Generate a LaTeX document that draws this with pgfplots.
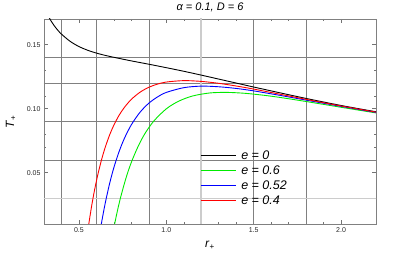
\documentclass[border=0pt]{standalone}
\usepackage{fontspec}
\setmainfont{Liberation Sans}
\usepackage{pgfplots}
\pgfplotsset{compat=1.18}
\definecolor{cgreen}{RGB}{0,235,0}
\definecolor{cred}{RGB}{255,0,0}
\definecolor{cblue}{RGB}{0,0,255}
\begin{document}
\begin{tikzpicture}
\path[use as bounding box] (0,0) rectangle (415pt,260pt);
\begin{axis}[
  at={(44pt,36pt)}, anchor=south west,
  scale only axis, width=332pt, height=205pt,
  xmin=0.3, xmax=2.2, ymin=0.01, ymax=0.17,
  xtick={0.5,1.0,1.5,2.0}, ytick={0.05,0.10,0.15},
  minor x tick num=4, minor y tick num=4,
  xticklabel style={/pgf/number format/fixed, /pgf/number format/precision=1, /pgf/number format/fixed zerofill},
  yticklabel style={/pgf/number format/fixed, /pgf/number format/precision=2, /pgf/number format/fixed zerofill},
  /pgf/number format/assume math mode=true,
  tick label style={font=\fontsize{7}{8}\selectfont, black!85},
  major tick length=4pt, minor tick length=2pt,
  tick style={black!55, line width=0.5pt},
  axis line style={black!50, line width=0.6pt},
  tick align=inside,
  extra x ticks={0.4,0.6,0.9,1.5,1.8}, extra x tick labels={},
  extra x tick style={grid=major, major tick length=0pt},
  extra y ticks={0.14,0.12,0.09,0.06}, extra y tick labels={},
  extra y tick style={grid=major, major tick length=0pt},
  major grid style={black!50, line width=0.5pt},
  every axis title shift=0pt,
  title={α = 0.1, D = 6},
  title style={font=\fontsize{11}{13}\selectfont\itshape, at={(axis description cs:0.5,1)}, anchor=center, yshift=11.7pt},
  xlabel={\textit{r}\textsubscript{+}},
  ylabel={\textit{T}\textsubscript{+}},
  xlabel style={font=\fontsize{12}{14}\selectfont, at={(axis description cs:0.5,-0.1024)}, anchor=center},
  ylabel style={font=\fontsize{12}{14}\selectfont, at={(axis description cs:-0.1,0.5)}, anchor=center},
  legend style={draw=none, fill=none, at={(axis description cs:0.4699,0.3644)}, anchor=north west,
    font=\fontsize{12.5}{14}\selectfont\itshape, row sep=3pt, column sep=4pt, inner sep=0pt,
    nodes={inner sep=1pt, text height=9pt, text depth=1pt}},
  legend cell align=left,
  legend image code/.code={\draw[#1, line width=1.1pt] (0pt,0pt) -- (35pt,0pt);},
]
\addplot[black!20, line width=1.6pt, forget plot] coordinates {(1.2,0.0) (1.2,0.2)};
\addplot[black!20, line width=1.6pt, forget plot] coordinates {(0.2,0.03) (2.3,0.03)};

\addplot[black, line width=0.9pt, smooth] coordinates {
(0.32,0.1733)(0.34,0.1686)(0.36,0.1645)(0.38,0.1611)(0.40,0.1582)(0.45,0.1525)(0.50,0.1485)(0.55,0.1456)(0.60,0.1434)(0.65,0.1416)(0.70,0.1401)(0.80,0.1373)(0.90,0.1347)(1.0,0.1320)(1.1,0.1292)(1.2,0.1262)(1.3,0.1231)(1.4,0.1200)(1.5,0.1169)(1.65,0.1124)(1.8,0.1080)(2.0,0.1025)(2.2,0.0976)};
\addlegendentry{e = 0}

\addplot[cgreen, line width=0.9pt, smooth] coordinates {
(0.68,-0.0077)(0.69,0.0000)(0.70,0.0072)(0.72,0.0202)(0.74,0.0316)(0.77,0.0462)(0.80,0.0582)(0.84,0.0710)(0.88,0.0811)(0.93,0.0906)(1.0,0.0999)(1.07,0.1058)(1.15,0.1099)(1.25,0.1123)(1.35,0.1127)(1.45,0.1120)(1.55,0.1106)(1.65,0.1088)(1.8,0.1056)(2.0,0.1011)(2.2,0.0967)};
\addlegendentry{e = 0.6}

\addplot[cblue, line width=0.9pt, smooth] coordinates {
(0.61,-0.0054)(0.62,0.0034)(0.63,0.0115)(0.65,0.0260)(0.675,0.0413)(0.70,0.0541)(0.73,0.0666)(0.76,0.0768)(0.80,0.0875)(0.85,0.0973)(0.90,0.1043)(0.95,0.1092)(1.0,0.1127)(1.1,0.1164)(1.2,0.1176)(1.3,0.1171)(1.4,0.1158)(1.5,0.1139)(1.65,0.1104)(1.8,0.1067)(2.0,0.1018)(2.2,0.0971)};
\addlegendentry{e = 0.52}

\addplot[cred, line width=0.9pt, smooth] coordinates {
(0.54,-0.0064)(0.55,0.0039)(0.56,0.0133)(0.575,0.0259)(0.59,0.0370)(0.61,0.0497)(0.63,0.0605)(0.65,0.0697)(0.675,0.0793)(0.70,0.0872)(0.73,0.0949)(0.76,0.1010)(0.80,0.1073)(0.85,0.1129)(0.90,0.1167)(0.95,0.1192)(1.0,0.1208)(1.1,0.1219)(1.2,0.1213)(1.3,0.1198)(1.4,0.1177)(1.5,0.1153)(1.65,0.1113)(1.8,0.1073)(2.0,0.1021)(2.2,0.0973)};
\addlegendentry{e = 0.4}
\end{axis}
\end{tikzpicture}
\end{document}
